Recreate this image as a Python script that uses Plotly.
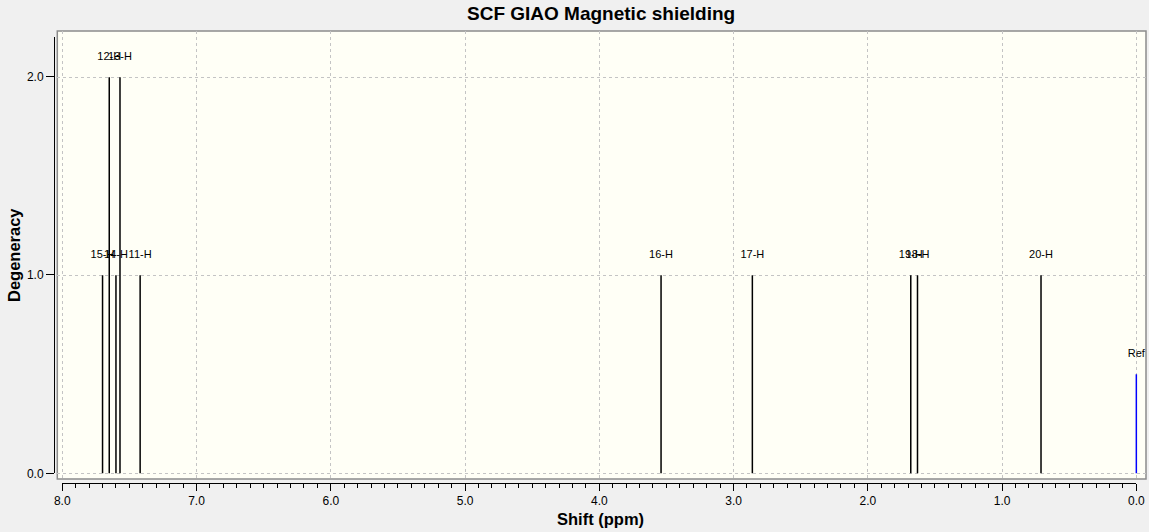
import plotly.graph_objects as go

# peaks
labels = ['15-H', '12-H', '14-H', '13-H', '11-H', '16-H', '17-H', '19-H', '18-H', '20-H', 'Ref']
shifts = [7.70, 7.65, 7.60, 7.57, 7.42, 3.54, 2.86, 1.68, 1.63, 0.71, 0.0]
degeneracy = [1, 2, 1, 2, 1, 1, 1, 1, 1, 1, 0.5]
x_ticks = [8, 7, 6, 5, 4, 3, 2, 1, 0]

W, H = 1149, 532
L, R, T, B = 50, 2, 31, 46
pw, ph = W - L - R, H - T - B

def fx(px):
    return (px - L) / pw

def fy(py):
    return (H - B - py) / ph

fig = go.Figure()

# sticks
for s, d, lab in zip(shifts, degeneracy, labels):
    col = 'blue' if lab == 'Ref' else 'black'
    fig.add_trace(go.Scatter(x=[s, s], y=[0, d], mode='lines',
                             line=dict(color=col, width=1.5),
                             hoverinfo='skip', showlegend=False))

# labels above sticks
fig.add_trace(go.Scatter(x=shifts, y=[d + 0.1 for d in degeneracy], mode='text',
                         text=labels, textposition='middle center',
                         textfont=dict(family='Liberation Sans', size=11, color='black'),
                         cliponaxis=False, hoverinfo='skip', showlegend=False))

# invisible trace that carries the offset tick axes (own subplot, no grid)
fig.add_trace(go.Scatter(x=shifts, y=degeneracy, xaxis='x2', yaxis='y2', mode='markers',
                         marker=dict(opacity=0), hoverinfo='skip', showlegend=False))

tickfont = dict(family='Liberation Sans', size=12, color='black')
grid = dict(showgrid=True, gridcolor='#c4c4c4', griddash='3px,3px', gridwidth=1,
            zeroline=False, showline=False, ticks='', showticklabels=False)

# the browser takes ~8px off the width, so ask for a bit more
fig.update_layout(
    width=W + 8, height=H, autosize=False,
    margin=dict(l=L, r=R, t=T, b=B, pad=0),
    paper_bgcolor='#f0f0f0',
    plot_bgcolor='rgba(0,0,0,0)',
    xaxis=dict(domain=[fx(57.3), 1.0], range=[8.037, -0.072], dtick=1, tick0=0, **grid),
    yaxis=dict(domain=[fy(479), 1.0], range=[-0.029, 2.234], dtick=1, tick0=0, **grid),
    xaxis2=dict(domain=[fx(62.3), fx(1137.3)], range=[8, 0], anchor='free',
                position=fy(482.7), side='bottom', showgrid=False, zeroline=False,
                showline=True, linecolor='black', linewidth=1,
                tickvals=x_ticks, tickformat='.1f', ticks='outside', ticklen=7,
                tickcolor='black', tickfont=tickfont,
                minor=dict(dtick=0.1, tick0=0, ticks='outside', ticklen=4,
                           tickcolor='black', showgrid=False)),
    yaxis2=dict(domain=[fy(473.3), fy(37)], range=[0, 2.2], anchor='free',
                position=fx(54), side='left', showgrid=False, zeroline=False,
                showline=True, linecolor='black', linewidth=1,
                dtick=1, tick0=0, tickformat='.1f', ticks='outside', ticklen=8,
                tickcolor='black', tickfont=tickfont),
    shapes=[dict(type='rect', xref='paper', yref='paper',
                 x0=fx(57.3), x1=1.0, y0=fy(479), y1=1.0,
                 fillcolor='#fffff6', line=dict(color='#8c8c8c', width=1.5),
                 layer='below')],
    annotations=[
        dict(text='<b>SCF GIAO Magnetic shielding</b>', xref='paper', yref='paper',
             x=fx(601.5), y=fy(14), showarrow=False, xanchor='center', yanchor='middle',
             font=dict(family='Liberation Sans', size=19, color='black')),
        dict(text='<b>Shift (ppm)</b>', xref='paper', yref='paper',
             x=fx(601), y=fy(519), showarrow=False, xanchor='center', yanchor='middle',
             font=dict(family='Liberation Sans', size=16.5, color='black')),
        dict(text='<b>Degeneracy</b>', xref='paper', yref='paper', textangle=-90,
             x=fx(14), y=fy(255), showarrow=False, xanchor='center', yanchor='middle',
             font=dict(family='Liberation Sans', size=16.5, color='black')),
    ],
)

fix_page = ("document.body.style.margin = '0px';"
            "document.body.style.overflow = 'hidden';"
            "document.body.style.background = '#f0f0f0';")
fig.write_html("out.html", config={'displayModeBar': False}, post_script=fix_page)
